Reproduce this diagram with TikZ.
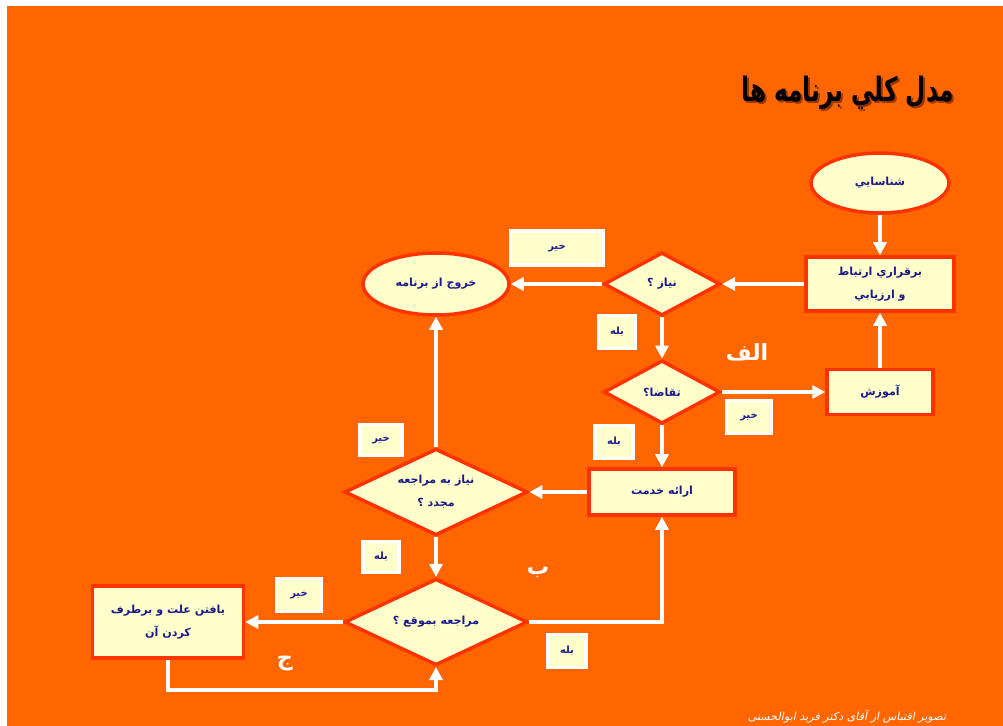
\documentclass[tikz,border=0pt]{standalone}
\usepackage{fontspec}
\usepackage{graphicx}
\newfontfamily\farsi[Script=Arabic]{DejaVu Sans}
\newfontfamily\farsislant[Script=Arabic,FakeSlant=0.2]{DejaVu Sans}
\TeXXeTstate=1
\usetikzlibrary{shapes.geometric,arrows.meta}

\definecolor{bgorange}{RGB}{255,102,0}
\definecolor{boxfill}{RGB}{255,255,204}
\definecolor{boxline}{RGB}{255,51,0}
\definecolor{boxtext}{RGB}{26,26,140}
\definecolor{titleshade}{RGB}{150,55,0}

\newcommand\boxfont{\farsi\bfseries\fontsize{9.5}{19.5}\selectfont}
\newcommand\ansfont{\farsi\bfseries\fontsize{8.5}{10}\selectfont}
\newcommand\letterfont{\farsi\bfseries\fontsize{19}{21}\selectfont}
\newcommand\headfont{\farsi\bfseries\fontsize{22}{26}\selectfont}
\newcommand\creditfont{\farsislant\fontsize{9.5}{11}\selectfont}
\newcommand\headtext{\scalebox{0.9}[1.3]{\beginR مدل کلي برنامه ها\endR}}

\tikzset{
  termbox/.style={ellipse, draw=boxline, fill=boxfill, line width=3pt,
    inner sep=0pt, text=boxtext, font=\boxfont},
  procbox/.style={rectangle, draw=boxline, fill=boxfill, line width=3pt,
    inner sep=0pt, text=boxtext, font=\boxfont, align=center},
  decbox/.style={diamond, aspect=2, draw=boxline, fill=boxfill, line width=3pt,
    inner sep=0pt, text=boxtext, font=\boxfont, align=center},
  ansbox/.style={rectangle, draw=white, fill=boxfill, line width=2.8pt,
    inner sep=0pt, text=boxtext, font=\ansfont},
  letterlab/.style={text=white, font=\letterfont, inner sep=0pt},
  flowarrow/.style={draw=white, line width=3pt,
    -{Triangle[length=3.9mm,width=3.9mm]}},
}

\begin{document}
\begin{tikzpicture}[x=0.3mm,y=-0.3mm]
\useasboundingbox (0,0) rectangle (1003,726);
\fill[white] (0,0) rectangle (1003,726);
\fill[bgorange] (7,6) rectangle (1003,726);

% title
\node[anchor=east, text=titleshade, font=\headfont] (titleshadow) at (960,95) {\headtext};
\node[anchor=east, text=black, font=\headfont] (title) at (958,93) {\headtext};

% main boxes
\node[termbox, minimum width=41.4mm, minimum height=18mm] (shenasayi) at (880,183) {\beginR شناسايي\endR};
\node[procbox, minimum width=44.4mm, minimum height=16.2mm] (ertebat) at (880,284) {\beginR برقراري ارتباط\endR\\\beginR و ارزيابي\endR};
\node[decbox, minimum width=35mm, minimum height=19mm] (niaz) at (662,284) {\beginR نياز ؟\endR};
\node[termbox, minimum width=43.8mm, minimum height=18.6mm] (khoruj) at (436,284) {\beginR خروج از برنامه\endR};
\node[decbox, minimum width=35mm, minimum height=19mm] (taqaza) at (662,392) {\beginR تقاضا؟\endR};
\node[procbox, minimum width=31.8mm, minimum height=13.5mm] (amuzesh) at (880,392) {\beginR آموزش\endR};
\node[procbox, minimum width=43.8mm, minimum height=13.8mm] (khedmat) at (662,492) {\beginR ارائه خدمت\endR};
\node[decbox, minimum width=55mm, minimum height=26mm] (mojadad) at (436,492) {\beginR نياز به مراجعه\endR\\\beginR مجدد ؟\endR};
\node[decbox, minimum width=55mm, minimum height=26mm] (bemoqe) at (436,622) {\beginR مراجعه بموقع ؟\endR};
\node[procbox, minimum width=45.3mm, minimum height=21.6mm] (elat) at (168,622) {\beginR يافتن علت و برطرف\endR\\\beginR كردن آن\endR};

% answers
\node[ansbox, minimum width=27.9mm, minimum height=10.2mm] (kheyr1) at (557,248) {\beginR خير\endR};
\node[ansbox, minimum width=11.1mm, minimum height=9.9mm] (baleh1) at (617,332) {\beginR بله\endR};
\node[ansbox, minimum width=13.5mm, minimum height=9.9mm] (kheyr2) at (749,417) {\beginR خير\endR};
\node[ansbox, minimum width=11.4mm, minimum height=9.9mm] (baleh2) at (614,442) {\beginR بله\endR};
\node[ansbox, minimum width=12.6mm, minimum height=9.3mm] (kheyr3) at (381,440) {\beginR خير\endR};
\node[ansbox, minimum width=10.8mm, minimum height=9.3mm] (baleh3) at (381,557) {\beginR بله\endR};
\node[ansbox, minimum width=13.5mm, minimum height=9.9mm] (kheyr4) at (299,595) {\beginR خير\endR};
\node[ansbox, minimum width=11.4mm, minimum height=9.9mm] (baleh4) at (567,651) {\beginR بله\endR};

% section letters
\node[letterlab] (alef) at (747,352) {\beginR الف\endR};
\node[letterlab] (be) at (538,573) {\beginR ب\endR};
\node[letterlab] (jim) at (285,663) {\beginR ج\endR};

% connectors
\draw[flowarrow] (shenasayi.south) -- (ertebat.north);
\draw[flowarrow] (ertebat.west) -- (niaz.east);
\draw[flowarrow] (niaz.west) -- (khoruj.east);
\draw[flowarrow] (niaz.south) -- (taqaza.north);
\draw[flowarrow] (taqaza.east) -- (amuzesh.west);
\draw[flowarrow] (amuzesh.north) -- (ertebat.south);
\draw[flowarrow] (taqaza.south) -- (khedmat.north);
\draw[flowarrow] (khedmat.west) -- (mojadad.east);
\draw[flowarrow] (mojadad.north) -- (khoruj.south);
\draw[flowarrow] (mojadad.south) -- (bemoqe.north);
\draw[flowarrow] (bemoqe.west) -- (elat.east);
\coordinate (jloop) at (300,690);
\draw[flowarrow] (elat.south) |- (jloop) -| (bemoqe.south);
\draw[flowarrow] (bemoqe.east) -| (khedmat.south);

% credit line
\node[text=white, font=\creditfont] (credit) at (847,717) {\beginR تصویر اقتباس از آقای دکتر فرید ابوالحسنی\endR};
\end{tikzpicture}
\end{document}
